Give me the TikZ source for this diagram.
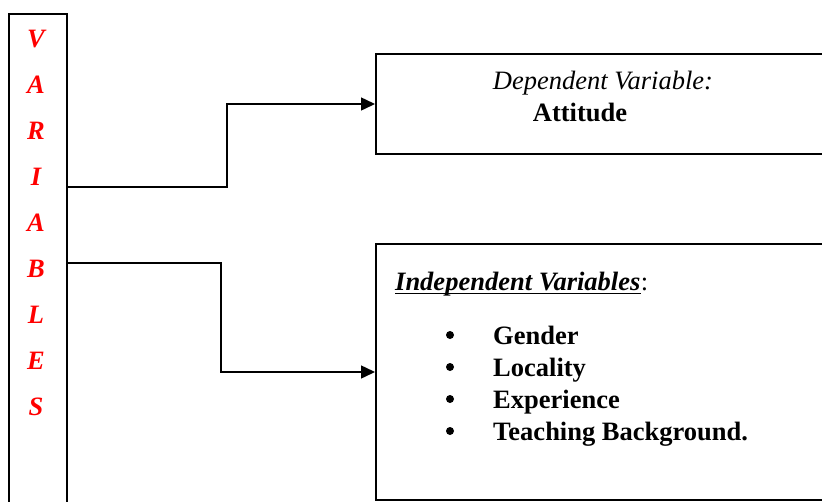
\documentclass[tikz,border=0pt]{standalone}
\usepackage{fontspec}
\setmainfont{Liberation Serif}
\usepackage{xcolor}
\usetikzlibrary{arrows.meta, positioning, calc}
\definecolor{lettered}{HTML}{FF0000}

\begin{document}
\begin{tikzpicture}[
    x=1pt, y=-1pt,
    >={Triangle[length=14pt, width=13pt]},
    box/.style={draw, line width=2pt, inner sep=0pt},
    conn/.style={draw, line width=1.5pt, ->},
    letter/.style={text=lettered, font=\fontsize{26.5}{30}\selectfont\bfseries\itshape},
    txt/.style={font=\fontsize{26.5}{30}\selectfont, inner sep=0pt},
    bullet/.style={circle, fill, inner sep=0pt, minimum size=8pt},
]
    \useasboundingbox (0,0) rectangle (822,501);
    \clip (0,0) rectangle (822,501);

    % Boxes
    \node[box, minimum width=58pt, minimum height=520pt, anchor=north west] (vars) at (8,13) {};
    \node[box, minimum width=470pt, minimum height=100pt, anchor=north west] (dep) at (375,53) {};
    \node[box, minimum width=470pt, minimum height=256pt, anchor=north west] (ind) at (375,243) {};

    % Letters
    \foreach \ch [count=\i from 0] in {V,A,R,I,A,B,L,E,S}
        \node[letter] (let\i) at (36, 39+46*\i) {\ch};

    % Texts
    \node[txt, anchor=base, font=\fontsize{26.5}{30}\selectfont\itshape] (deptitle) at (603,89) {Dependent Variable:};
    \node[txt, anchor=base, font=\fontsize{26.5}{30}\selectfont\bfseries] (attitude) at (580,121) {Attitude};
    \node[txt, anchor=base west, font=\fontsize{26.5}{30}\selectfont\bfseries\itshape] (indtitle) at (395,290) {Independent Variables};
    \node[txt, anchor=base west] (indcolon) at (indtitle.base east) {:};
    \draw[line width=1.8pt] ([yshift=-3.5pt]indtitle.base west) -- ([yshift=-3.5pt]indtitle.base east);
    \foreach \item [count=\i from 0] in {Gender, Locality, Experience, Teaching Background.} {
        \node[bullet] (dot\i) at (450, 335+32*\i) {};
        \node[txt, anchor=base west, font=\fontsize{26.5}{30}\selectfont\bfseries] (item\i) at (493, 344+32*\i) {\item};
    }

    % Edges
    \coordinate (tapA) at (66,187);
    \coordinate (tapB) at (66,263);
    \coordinate (elbowA) at (227,0);
    \coordinate (elbowB) at (221,0);
    \draw[conn] (tapA) -| (elbowA |- dep.west) -- (dep.west);
    \draw[conn] (tapB) -| (elbowB |- ind.west) -- (ind.west);
\end{tikzpicture}
\end{document}
